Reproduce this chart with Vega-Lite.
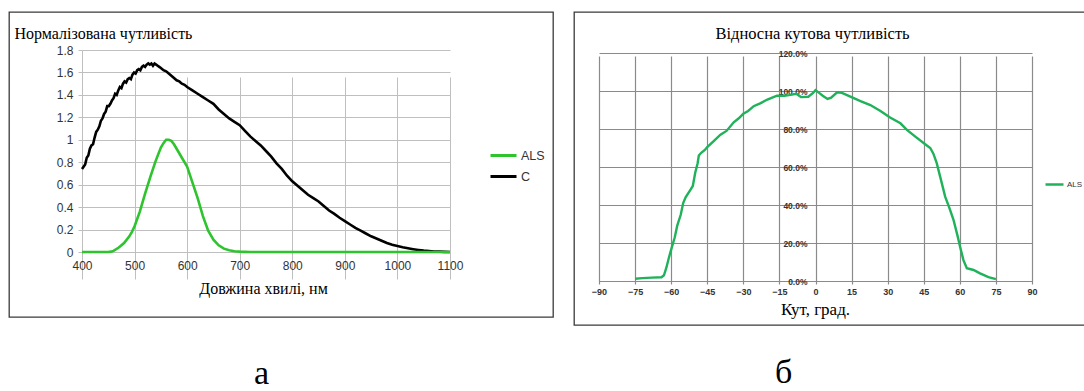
{
"$schema": "https://vega.github.io/schema/vega-lite/v6.json",
"background": "white",
"padding": {"left": 8, "top": 11, "right": 0, "bottom": 0},
"spacing": 19,
"resolve": {"scale": {"color": "independent", "x": "independent", "y": "independent"}, "legend": {"color": "independent"}},
"hconcat": [
{
 "width": 544, "height": 305,
 "view": {"stroke": "#3a3a3a", "strokeWidth": 1.3, "fill": "white"},
 "title": {"text": "а", "orient": "bottom", "anchor": "start", "frame": "group", "dx": 245, "offset": 74, "baseline": "bottom", "font": "Liberation Serif", "fontSize": 34, "fontWeight": "normal", "color": "#000"},
 "data": {"values": [
  {"wl":400,"v":0.74,"s":"C"},{"wl":403,"v":0.76,"s":"C"},{"wl":406,"v":0.78,"s":"C"},{"wl":409,"v":0.84,"s":"C"},{"wl":412,"v":0.86,"s":"C"},{"wl":415,"v":0.92,"s":"C"},{"wl":418,"v":0.95,"s":"C"},{"wl":421,"v":0.96,"s":"C"},{"wl":424,"v":1.02,"s":"C"},{"wl":427,"v":1.07,"s":"C"},{"wl":430,"v":1.09,"s":"C"},{"wl":433,"v":1.12,"s":"C"},{"wl":436,"v":1.17,"s":"C"},{"wl":439,"v":1.19,"s":"C"},{"wl":442,"v":1.23,"s":"C"},{"wl":445,"v":1.25,"s":"C"},{"wl":448,"v":1.3,"s":"C"},{"wl":451,"v":1.3,"s":"C"},{"wl":454,"v":1.32,"s":"C"},{"wl":457,"v":1.35,"s":"C"},{"wl":460,"v":1.37,"s":"C"},{"wl":463,"v":1.41,"s":"C"},{"wl":466,"v":1.4,"s":"C"},{"wl":469,"v":1.44,"s":"C"},{"wl":472,"v":1.47,"s":"C"},{"wl":475,"v":1.46,"s":"C"},{"wl":478,"v":1.5,"s":"C"},{"wl":481,"v":1.52,"s":"C"},{"wl":484,"v":1.51,"s":"C"},{"wl":487,"v":1.54,"s":"C"},{"wl":490,"v":1.55,"s":"C"},{"wl":493,"v":1.54,"s":"C"},{"wl":496,"v":1.58,"s":"C"},{"wl":499,"v":1.6,"s":"C"},{"wl":502,"v":1.59,"s":"C"},{"wl":505,"v":1.62,"s":"C"},{"wl":508,"v":1.63,"s":"C"},{"wl":511,"v":1.62,"s":"C"},{"wl":514,"v":1.65,"s":"C"},{"wl":517,"v":1.66,"s":"C"},{"wl":520,"v":1.65,"s":"C"},{"wl":523,"v":1.67,"s":"C"},{"wl":526,"v":1.68,"s":"C"},{"wl":529,"v":1.67,"s":"C"},{"wl":532,"v":1.68,"s":"C"},{"wl":535,"v":1.66,"s":"C"},{"wl":538,"v":1.68,"s":"C"},{"wl":541,"v":1.67,"s":"C"},{"wl":544,"v":1.66,"s":"C"},{"wl":547,"v":1.65,"s":"C"},{"wl":550,"v":1.64,"s":"C"},{"wl":555,"v":1.62,"s":"C"},{"wl":560,"v":1.61,"s":"C"},{"wl":565,"v":1.59,"s":"C"},{"wl":570,"v":1.57,"s":"C"},{"wl":575,"v":1.55,"s":"C"},{"wl":580,"v":1.53,"s":"C"},{"wl":585,"v":1.52,"s":"C"},{"wl":590,"v":1.5,"s":"C"},{"wl":595,"v":1.49,"s":"C"},{"wl":600,"v":1.47,"s":"C"},{"wl":610,"v":1.44,"s":"C"},{"wl":620,"v":1.41,"s":"C"},{"wl":630,"v":1.38,"s":"C"},{"wl":640,"v":1.35,"s":"C"},{"wl":650,"v":1.32,"s":"C"},{"wl":660,"v":1.27,"s":"C"},{"wl":670,"v":1.23,"s":"C"},{"wl":680,"v":1.19,"s":"C"},{"wl":690,"v":1.16,"s":"C"},{"wl":700,"v":1.13,"s":"C"},{"wl":710,"v":1.08,"s":"C"},{"wl":720,"v":1.03,"s":"C"},{"wl":730,"v":0.99,"s":"C"},{"wl":740,"v":0.95,"s":"C"},{"wl":750,"v":0.9,"s":"C"},{"wl":760,"v":0.85,"s":"C"},{"wl":770,"v":0.79,"s":"C"},{"wl":780,"v":0.74,"s":"C"},{"wl":790,"v":0.68,"s":"C"},{"wl":800,"v":0.63,"s":"C"},{"wl":810,"v":0.59,"s":"C"},{"wl":820,"v":0.55,"s":"C"},{"wl":830,"v":0.51,"s":"C"},{"wl":840,"v":0.48,"s":"C"},{"wl":850,"v":0.45,"s":"C"},{"wl":860,"v":0.41,"s":"C"},{"wl":870,"v":0.37,"s":"C"},{"wl":880,"v":0.34,"s":"C"},{"wl":890,"v":0.305,"s":"C"},{"wl":900,"v":0.275,"s":"C"},{"wl":910,"v":0.245,"s":"C"},{"wl":920,"v":0.215,"s":"C"},{"wl":930,"v":0.19,"s":"C"},{"wl":940,"v":0.165,"s":"C"},{"wl":950,"v":0.14,"s":"C"},{"wl":960,"v":0.12,"s":"C"},{"wl":970,"v":0.1,"s":"C"},{"wl":980,"v":0.08,"s":"C"},{"wl":990,"v":0.065,"s":"C"},{"wl":1000,"v":0.053,"s":"C"},{"wl":1010,"v":0.042,"s":"C"},{"wl":1020,"v":0.033,"s":"C"},{"wl":1030,"v":0.025,"s":"C"},{"wl":1040,"v":0.018,"s":"C"},{"wl":1050,"v":0.012,"s":"C"},{"wl":1060,"v":0.008,"s":"C"},{"wl":1070,"v":0.005,"s":"C"},{"wl":1080,"v":0.003,"s":"C"},{"wl":1090,"v":0.001,"s":"C"},{"wl":1100,"v":0,"s":"C"},
  {"wl":400,"v":0,"s":"ALS"},{"wl":450,"v":0,"s":"ALS"},{"wl":455,"v":0.003,"s":"ALS"},{"wl":460,"v":0.01,"s":"ALS"},{"wl":470,"v":0.04,"s":"ALS"},{"wl":480,"v":0.08,"s":"ALS"},{"wl":490,"v":0.14,"s":"ALS"},{"wl":495,"v":0.18,"s":"ALS"},{"wl":500,"v":0.23,"s":"ALS"},{"wl":510,"v":0.36,"s":"ALS"},{"wl":520,"v":0.52,"s":"ALS"},{"wl":530,"v":0.67,"s":"ALS"},{"wl":540,"v":0.81,"s":"ALS"},{"wl":550,"v":0.93,"s":"ALS"},{"wl":555,"v":0.97,"s":"ALS"},{"wl":560,"v":1.0,"s":"ALS"},{"wl":565,"v":1.0,"s":"ALS"},{"wl":570,"v":0.99,"s":"ALS"},{"wl":575,"v":0.96,"s":"ALS"},{"wl":580,"v":0.92,"s":"ALS"},{"wl":590,"v":0.84,"s":"ALS"},{"wl":600,"v":0.76,"s":"ALS"},{"wl":610,"v":0.62,"s":"ALS"},{"wl":620,"v":0.48,"s":"ALS"},{"wl":630,"v":0.32,"s":"ALS"},{"wl":640,"v":0.19,"s":"ALS"},{"wl":650,"v":0.11,"s":"ALS"},{"wl":660,"v":0.06,"s":"ALS"},{"wl":670,"v":0.03,"s":"ALS"},{"wl":680,"v":0.015,"s":"ALS"},{"wl":690,"v":0.007,"s":"ALS"},{"wl":700,"v":0.003,"s":"ALS"},{"wl":710,"v":0.001,"s":"ALS"},{"wl":720,"v":0,"s":"ALS"},{"wl":800,"v":0,"s":"ALS"},{"wl":900,"v":0,"s":"ALS"},{"wl":1000,"v":0,"s":"ALS"},{"wl":1100,"v":0,"s":"ALS"}
 ]},
 "mark": {"type": "line", "strokeWidth": 2.6},
 "encoding": {
  "x": {"field": "wl", "type": "quantitative",
   "scale": {"domain": [400, 1100], "range": [73, 441], "nice": false, "zero": false},
   "axis": {"values": [400,500,600,700,800,900,1000,1100], "format": "d", "orient": "bottom", "offset": -65, "grid": true, "gridColor": "#bfbfbf", "gridWidth": 1, "domainColor": "#bfbfbf", "tickColor": "#bfbfbf", "tickSize": 4, "labelPadding": 4, "labelFont": "Liberation Sans", "labelFontSize": 12, "labelColor": "#333", "labelFlush": false, "labelOverlap": false,
    "title": "Довжина хвилі, нм", "titleFont": "Liberation Serif", "titleFontSize": 16, "titleFontWeight": "normal", "titleColor": "#000", "titleX": 254, "titleY": 36, "titleBaseline": "middle"}},
  "y": {"field": "v", "type": "quantitative",
   "scale": {"domain": [0, 1.8], "range": [240, 38], "nice": false, "zero": false},
   "axis": {"values": [0,0.2,0.4,0.6,0.8,1,1.2,1.4,1.6,1.8], "format": "~g", "orient": "left", "offset": -73, "grid": true, "gridColor": "#bfbfbf", "gridWidth": 1, "domainColor": "#bfbfbf", "tickColor": "#bfbfbf", "tickSize": 4, "labelPadding": 5, "labelFont": "Liberation Sans", "labelFontSize": 12, "labelColor": "#333", "labelOverlap": false,
    "title": "Нормалізована чутливість", "titleAngle": 0, "titleX": -68, "titleY": 21, "titleAlign": "left", "titleBaseline": "middle", "titleFont": "Liberation Serif", "titleFontSize": 16, "titleFontWeight": "normal", "titleColor": "#000"}},
  "color": {"field": "s", "type": "nominal",
   "scale": {"domain": ["ALS", "C"], "range": ["#2ec42e", "#000000"]},
   "legend": {"orient": "none", "legendX": 480, "legendY": 129, "title": null, "padding": 0, "symbolType": "stroke", "symbolStrokeWidth": 3, "symbolSize": 676, "labelFont": "Liberation Sans", "labelFontSize": 12.5, "labelColor": "#333", "labelOffset": 3, "rowPadding": 0}}
 }
},
{
 "width": 513, "height": 313,
 "view": {"stroke": "#3a3a3a", "strokeWidth": 1.3, "fill": "white"},
 "title": {"text": "б", "orient": "bottom", "anchor": "start", "frame": "group", "dx": 201, "offset": 65, "baseline": "bottom", "font": "Liberation Serif", "fontSize": 34, "fontWeight": "normal", "color": "#000"},
 "data": {"values": [
  {"a":-75,"v":0.012},{"a":-72,"v":0.015},{"a":-68,"v":0.018},{"a":-64,"v":0.02},{"a":-63,"v":0.03},{"a":-62,"v":0.07},{"a":-61,"v":0.12},{"a":-60,"v":0.165},{"a":-58.5,"v":0.23},{"a":-57.5,"v":0.29},{"a":-56,"v":0.35},{"a":-55,"v":0.41},{"a":-54,"v":0.44},{"a":-52,"v":0.48},{"a":-51,"v":0.5},{"a":-50,"v":0.57},{"a":-49,"v":0.62},{"a":-48.5,"v":0.66},{"a":-47.5,"v":0.675},{"a":-46,"v":0.69},{"a":-45,"v":0.705},{"a":-42,"v":0.74},{"a":-39.5,"v":0.77},{"a":-37,"v":0.79},{"a":-34,"v":0.835},{"a":-32,"v":0.855},{"a":-30,"v":0.88},{"a":-28,"v":0.895},{"a":-25.7,"v":0.92},{"a":-23,"v":0.935},{"a":-20,"v":0.955},{"a":-18,"v":0.965},{"a":-16,"v":0.975},{"a":-13,"v":0.975},{"a":-11,"v":0.978},{"a":-8,"v":0.985},{"a":-6,"v":0.968},{"a":-3,"v":0.97},{"a":-1,"v":0.99},{"a":0,"v":1.005},{"a":1.5,"v":0.99},{"a":3,"v":0.975},{"a":5,"v":0.958},{"a":6.5,"v":0.965},{"a":9,"v":0.993},{"a":11,"v":0.99},{"a":14.5,"v":0.97},{"a":18.7,"v":0.947},{"a":22.8,"v":0.926},{"a":27,"v":0.895},{"a":31,"v":0.86},{"a":35.3,"v":0.83},{"a":38,"v":0.795},{"a":41.5,"v":0.76},{"a":45.6,"v":0.72},{"a":47.7,"v":0.7},{"a":49,"v":0.67},{"a":50.4,"v":0.62},{"a":52,"v":0.54},{"a":53.9,"v":0.444},{"a":55.5,"v":0.39},{"a":57.4,"v":0.32},{"a":59,"v":0.24},{"a":60.1,"v":0.18},{"a":61.5,"v":0.11},{"a":62.9,"v":0.067},{"a":65.7,"v":0.058},{"a":68.4,"v":0.04},{"a":71.9,"v":0.02},{"a":75,"v":0.01}
 ]},
 "mark": {"type": "line", "strokeWidth": 2.4},
 "encoding": {
  "x": {"field": "a", "type": "quantitative",
   "scale": {"domain": [-90, 90], "range": [25, 458], "nice": false, "zero": false},
   "axis": {"values": [-90,-75,-60,-45,-30,-15,0,15,30,45,60,75,90], "orient": "bottom", "offset": -44, "grid": true, "gridColor": "#8a8a8a", "gridWidth": 1.2, "domain": false, "ticks": false, "labelPadding": 6, "labelFont": "Liberation Sans", "labelFontSize": 9, "labelFontWeight": "bold", "labelColor": "#333", "labelFlush": false, "labelOverlap": false,
    "title": "Кут, град.", "titleFont": "Liberation Serif", "titleFontSize": 17, "titleFontWeight": "normal", "titleColor": "#000", "titleX": 241, "titleY": 28, "titleBaseline": "middle"}},
  "y": {"field": "v", "type": "quantitative",
   "scale": {"domain": [0, 1.2], "range": [269, 41], "nice": false, "zero": false},
   "axis": {"values": [0,0.2,0.4,0.6,0.8,1,1.2], "format": ".1%", "orient": "left", "offset": -241, "grid": true, "gridColor": "#8a8a8a", "gridWidth": 1.2, "domain": false, "ticks": false, "labelPadding": 8, "labelFont": "Liberation Sans", "labelFontSize": 8.5, "labelFontWeight": "bold", "labelColor": "#333", "labelOverlap": false,
    "title": "Відносна кутова чутливість", "titleAngle": 0, "titleX": -3, "titleY": 21, "titleAlign": "center", "titleBaseline": "middle", "titleFont": "Liberation Serif", "titleFontSize": 16.5, "titleFontWeight": "normal", "titleColor": "#000"}},
  "color": {"datum": "ALS", "type": "nominal",
   "scale": {"domain": ["ALS"], "range": ["#1fb25a"]},
   "legend": {"orient": "none", "legendX": 470, "legendY": 162, "title": null, "padding": 0, "symbolType": "stroke", "symbolStrokeWidth": 2.5, "symbolSize": 324, "labelFont": "Liberation Sans", "labelFontSize": 8, "labelColor": "#333", "labelOffset": 2}}
 }
}
]
}
